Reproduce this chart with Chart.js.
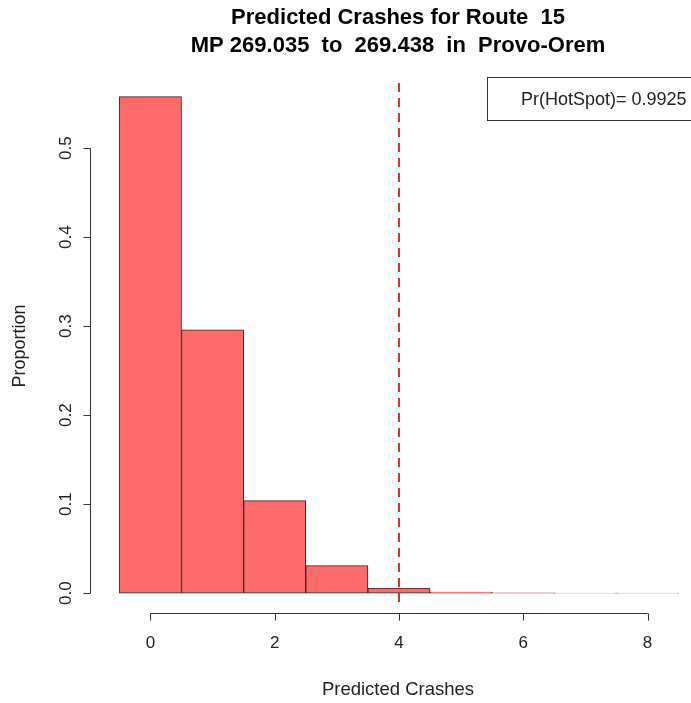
<!DOCTYPE html>
<html>
<head>
<meta charset="utf-8">
<script src="https://cdn.jsdelivr.net/npm/chart.js@4"></script>
<style>
  html, body { margin: 0; padding: 0; background: #fff; }
  #wrap { width: 691px; height: 703px; }
</style>
</head>
<body>
<div id="wrap"><canvas id="histChart" width="691" height="703"></canvas></div>
<script>
// predicted crash counts and the proportion of draws for each
const crashes = [0, 1, 2, 3, 4, 5, 6, 7, 8];
const proportion = [0.558, 0.296, 0.104, 0.031, 0.0058, 0.0012, 0.0004, 0.0001, 0.00003];
const xTicks = [0, 2, 4, 6, 8];
const yTicks = [0.0, 0.1, 0.2, 0.3, 0.4, 0.5];
const hotSpotCut = 4;
const prHotSpot = '0.9925';

const FONT = '"Liberation Sans", Arial, sans-serif';

const rStyle = {
    id: 'rStyle',
    afterDatasetsDraw(chart) {
        const ctx = chart.ctx;
        const xs = chart.scales.x, ys = chart.scales.y;
        const area = chart.chartArea;
        ctx.save();

        // dashed cut-off line
        ctx.strokeStyle = '#e8262b';
        ctx.lineWidth = 2;
        ctx.setLineDash([9, 6]);
        const cx = xs.getPixelForValue(hotSpotCut);
        ctx.beginPath();
        ctx.moveTo(cx, area.top + 6);
        ctx.lineTo(cx, area.bottom - 6);
        ctx.stroke();
        ctx.setLineDash([]);

        // x axis
        ctx.strokeStyle = '#333';
        ctx.lineWidth = 1;
        const axY = area.bottom + 0.5;
        ctx.beginPath();
        ctx.moveTo(xs.getPixelForValue(xTicks[0]), axY);
        ctx.lineTo(xs.getPixelForValue(xTicks[xTicks.length - 1]), axY);
        xTicks.forEach(t => {
            const px = Math.round(xs.getPixelForValue(t)) + 0.5;
            ctx.moveTo(px, axY);
            ctx.lineTo(px, axY + 7);
        });
        ctx.stroke();
        ctx.fillStyle = '#222';
        ctx.font = '17px ' + FONT;
        ctx.textAlign = 'center';
        ctx.textBaseline = 'middle';
        xTicks.forEach(t => ctx.fillText(String(t), xs.getPixelForValue(t), axY + 30));
        ctx.font = '18.5px ' + FONT;
        ctx.fillText('Predicted Crashes', 398, 690);

        // y axis
        const axX = area.left - 6.5;
        ctx.beginPath();
        ctx.moveTo(axX, ys.getPixelForValue(yTicks[0]));
        ctx.lineTo(axX, ys.getPixelForValue(yTicks[yTicks.length - 1]));
        yTicks.forEach(t => {
            const py = Math.round(ys.getPixelForValue(t)) + 0.5;
            ctx.moveTo(axX, py);
            ctx.lineTo(axX - 7, py);
        });
        ctx.stroke();
        ctx.font = '17px ' + FONT;
        yTicks.forEach(t => {
            ctx.save();
            ctx.translate(axX - 24, ys.getPixelForValue(t));
            ctx.rotate(-Math.PI / 2);
            ctx.fillText(t.toFixed(1), 0, 0);
            ctx.restore();
        });
        ctx.font = '18px ' + FONT;
        ctx.save();
        ctx.translate(20, 346);
        ctx.rotate(-Math.PI / 2);
        ctx.fillText('Proportion', 0, 0);
        ctx.restore();

        // title
        ctx.font = 'bold 22px ' + FONT;
        ctx.fillStyle = '#000';
        ctx.fillText('Predicted Crashes for Route  15', 398, 18);
        ctx.fillText('MP 269.035  to  269.438  in  Provo-Orem', 398, 46);

        // legend box
        ctx.strokeStyle = '#333';
        ctx.fillStyle = '#fff';
        ctx.fillRect(487.5, 77.5, 220, 43);
        ctx.strokeRect(487.5, 77.5, 220, 43);
        ctx.fillStyle = '#222';
        ctx.font = '18px ' + FONT;
        ctx.textAlign = 'left';
        ctx.fillText('Pr(HotSpot)= ' + prHotSpot, 521, 100);

        ctx.restore();
    }
};

new Chart(document.getElementById('histChart'), {
    type: 'bar',
    data: {
        datasets: [{
            data: crashes.map((c, i) => ({ x: c, y: proportion[i] })),
            backgroundColor: '#ff6a6a',
            borderColor: '#2b2b2b',
            borderWidth: 1,
            borderSkipped: false,
            barPercentage: 1,
            categoryPercentage: 1,
            grouped: false
        }]
    },
    options: {
        responsive: false,
        animation: false,
        layout: { padding: { left: 97, right: 0, top: 77, bottom: 90 } },
        plugins: { legend: { display: false }, tooltip: { enabled: false } },
        scales: {
            x: {
                type: 'linear', offset: false, min: -0.86, max: 8.7, display: false,
                // only the bin centres as ticks, so bars are one unit wide
                afterBuildTicks: scale => { scale.ticks = crashes.map(v => ({ value: v })); }
            },
            y: { min: -0.0223, max: 0.58, display: false }
        }
    },
    plugins: [rStyle]
});
</script>
</body>
</html>
